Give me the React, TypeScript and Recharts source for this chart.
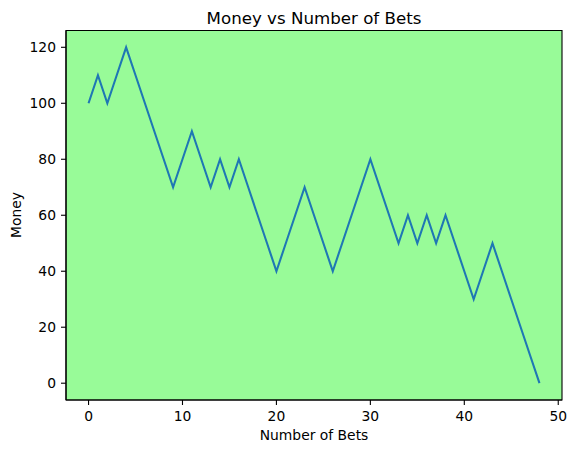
import React from "react";
import { LineChart, Line, XAxis, YAxis, CartesianGrid, ReferenceArea } from "recharts";

const bets = [0,1,2,3,4,5,6,7,8,9,10,11,12,13,14,15,16,17,18,19,20,21,22,23,24,25,26,27,28,29,30,31,32,33,34,35,36,37,38,39,40,41,42,43,44,45,46,47,48];
const money = [100,110,100,110,120,110,100,90,80,70,80,90,80,70,80,70,80,70,60,50,40,50,60,70,60,50,40,50,60,70,80,70,60,50,60,50,60,50,60,50,40,30,40,50,40,30,20,10,0];
const xTicks = [0, 10, 20, 30, 40, 50];
const yTicks = [0, 20, 40, 60, 80, 100, 120];
const title = "Money vs Number of Bets";
const xLabel = "Number of Bets";
const yLabel = "Money";

const data = bets.map((b, i) => ({ bets: b, money: money[i] }));

const FONT = "DejaVu Sans";
const W = 577;
const H = 453;

export default function App() {
  const tickStyle = { fill: "#000", fontSize: 13.89, fontFamily: FONT };
  return (
    <div style={{ position: "absolute", left: 0, top: 0, width: W, height: H, background: "#fff" }}>
      <LineChart width={W} height={H} data={data} margin={{ top: 30.5, right: 15, left: 0, bottom: 0 }}>
        <CartesianGrid fill="#98fb98" stroke="none" horizontal={false} vertical={false} />
        <XAxis
          dataKey="bets"
          type="number"
          domain={[-2.4, 50.4]}
          allowDataOverflow
          ticks={xTicks}
          height={53}
          tick={tickStyle}
          tickSize={5}
          tickMargin={6}
          tickLine={{ stroke: "#000", strokeWidth: 1.1 }}
          axisLine={{ stroke: "#000", strokeWidth: 1.1 }}
        />
        <YAxis
          type="number"
          domain={[-6, 126]}
          allowDataOverflow
          ticks={yTicks}
          width={66}
          tick={tickStyle}
          tickSize={5}
          tickMargin={5}
          tickLine={{ stroke: "#000", strokeWidth: 1.1 }}
          axisLine={{ stroke: "#000", strokeWidth: 1.1 }}
        />
        <ReferenceArea x1={-2.4} x2={50.4} y1={-6} y2={126} fill="none" stroke="#000" strokeWidth={1.1} ifOverflow="visible" />
        <Line
          dataKey="money"
          type="linear"
          stroke="#1f77b4"
          strokeWidth={2.08}
          dot={false}
          isAnimationActive={false}
        />
      </LineChart>
      <svg width={W} height={H} style={{ position: "absolute", left: 0, top: 0, pointerEvents: "none" }}>
        <text x={314} y={24} textAnchor="middle" fontFamily={FONT} fontSize={16.67} fill="#000">{title}</text>
        <text x={314} y={440} textAnchor="middle" fontFamily={FONT} fontSize={13.89} fill="#000">{xLabel}</text>
        <text x={21} y={215} textAnchor="middle" fontFamily={FONT} fontSize={13.89} fill="#000" transform="rotate(-90 21 215)">{yLabel}</text>
      </svg>
    </div>
  );
}
